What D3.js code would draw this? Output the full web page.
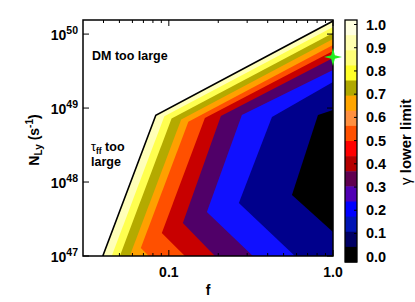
<!DOCTYPE html>
<html><head><meta charset="utf-8">
<script src="https://cdn.jsdelivr.net/npm/d3@7"></script>
<style>body{margin:0;background:#fff}svg{display:block}</style>
</head><body>
<svg id="chart" width="415" height="302"></svg>
<script>
// ---------- data ----------
const fTicks = [0.1, 1.0];
const fTickLabels = ["0.1", "1.0"];
const fMinorTicks = [0.04,0.05,0.06,0.07,0.08,0.09,0.2,0.3,0.4,0.5,0.6,0.7,0.8,0.9];
const nTicks = [1e47, 1e48, 1e49, 1e50];
const nTickExp = ["47", "48", "49", "50"];
const cbTicks = [0.0,0.1,0.2,0.3,0.4,0.5,0.6,0.7,0.8,0.9,1.0];
const cbTickLabels = ["0.0","0.1","0.2","0.3","0.4","0.5","0.6","0.7","0.8","0.9","1.0"];
// colour bar bands, top (high) to bottom (low)
const cbColors = ["#FFFFE0","#FFFFB0","#FFFF78","#FFFF28","#B0A800","#FFA500","#FF9040","#FF5000",
                  "#FF0000","#B40000","#600050","#5000B4","#0000FF","#0014B4","#000064","#000000"];
// allowed-region edge (black line): [f, N_Ly]
const validEdge = [[0.0396,1e47],[0.0833,8.0e48],[1.0,1.5e50]];
// contour lines of gamma lower limit, [f, N_Ly]
const gamma09 = [[0.0449,1e47],[0.0939,7.73e48],[1.0,1.244e50]];
const gamma08 = [[0.0503,1e47],[0.1039,7.21e48],[1.0,1.032e50]];
const gamma07 = [[0.0578,1e47],[0.1189,7.01e48],[1.0,8.56e49]];
const gamma06 = [[0.0755,1e47],[0.0675,1.28e47],[0.1315,6.55e48],[1.0,7.10e49]];
const gamma05 = [[0.1252,1e47],[0.0906,2.05e47],[0.1658,7.33e48],[1.0,5.89e49]];
const gamma04 = [[0.1908,1e47],[0.1217,2.79e47],[0.2075,7.80e48],[1.0,4.74e49]];
const gamma03 = [[0.325,1e47],[0.1705,3.93e47],[0.2786,8.04e48],[1.0,3.26e49]];
const gamma02 = [[0.586,1e47],[0.267,5.20e47],[0.4246,7.56e48],[1.0,2.25e49]];
const gamma01 = [[1.0,2.11e47],[0.5623,6.67e47],[0.810,8.04e48],[1.0,9.4e48]];
const regionColors = ["#FFFFB8","#FFFF50","#B4AA00","#FFA000","#FF5000","#C80000","#500068","#1010FF","#00008C","#000000"];
const starPoint = [1.0, 4.9e49];

// ---------- layout ----------
const svg = d3.select("#chart");
const L = 83, R = 333, T = 20, B = 256;
const x = d3.scaleLog().domain([0.03, 1.0]).range([L, R]);
const y = d3.scaleLog().domain([1e47, 1.55e50]).range([B, T]);
const FONT = "'Liberation Sans', Arial, Helvetica, sans-serif";

svg.append("defs").append("clipPath").attr("id","clip")
  .append("rect").attr("x",L).attr("y",T).attr("width",R-L).attr("height",B-T);

const line = d3.line().x(d => x(d[0])).y(d => y(d[1]));
const fMax = x.domain()[1], nMin = y.domain()[0];
function region(pts){
  const out = pts.slice();
  if (pts[0][1] === nMin) out.push([fMax, nMin]);
  return line(out) + "Z";
}
const g = svg.append("g").attr("clip-path","url(#clip)");
const contours = [validEdge, gamma09, gamma08, gamma07, gamma06, gamma05, gamma04, gamma03, gamma02, gamma01];
contours.forEach((c, i) => {
  g.append("path").attr("d", region(c)).attr("fill", regionColors[i]).attr("stroke","none");
});
g.append("path").attr("d", line(validEdge)).attr("fill","none").attr("stroke","#000").attr("stroke-width",1.6);

// frame
svg.append("rect").attr("x",L).attr("y",T).attr("width",R-L).attr("height",B-T)
  .attr("fill","none").attr("stroke","#000").attr("stroke-width",1.5);

// x ticks
const tk = svg.append("g").attr("stroke","#000").attr("stroke-width",1);
fTicks.forEach(v => {
  tk.append("line").attr("x1",x(v)).attr("x2",x(v)).attr("y1",B).attr("y2",B-6);
  tk.append("line").attr("x1",x(v)).attr("x2",x(v)).attr("y1",T).attr("y2",T+6);
});
fMinorTicks.forEach(v => {
  tk.append("line").attr("x1",x(v)).attr("x2",x(v)).attr("y1",B).attr("y2",B-3);
  tk.append("line").attr("x1",x(v)).attr("x2",x(v)).attr("y1",T).attr("y2",T+3);
});
nTicks.forEach(v => {
  tk.append("line").attr("x1",L).attr("x2",L+6).attr("y1",y(v)).attr("y2",y(v));
  tk.append("line").attr("x1",R).attr("x2",R-6).attr("y1",y(v)).attr("y2",y(v));
});

// x tick labels
fTicks.forEach((v,i) => {
  svg.append("text").attr("x",x(v)).attr("y",277).attr("text-anchor","middle")
    .attr("font-family",FONT).attr("font-weight","bold").attr("font-size",14).text(fTickLabels[i]);
});
// y tick labels
nTicks.forEach((v,i) => {
  const t = svg.append("text").attr("x",78).attr("y",y(v)+6).attr("text-anchor","end")
    .attr("font-family",FONT).attr("font-weight","bold").attr("font-size",14);
  t.append("tspan").text("10");
  t.append("tspan").attr("font-size",10.5).attr("dy",-6).text(nTickExp[i]);
});
// axis titles
svg.append("text").attr("x",(L+R)/2).attr("y",295).attr("text-anchor","middle")
  .attr("font-family",FONT).attr("font-weight","bold").attr("font-size",14).text("f");
const yt = svg.append("text").attr("transform","translate(39,140) rotate(-90)").attr("text-anchor","middle")
  .attr("font-family",FONT).attr("font-weight","bold").attr("font-size",14);
yt.append("tspan").text("N");
yt.append("tspan").attr("font-size",10).attr("dy",3).text("Ly");
yt.append("tspan").attr("dy",-3).text(" (s");
yt.append("tspan").attr("font-size",10).attr("dy",-6).text("-1");
yt.append("tspan").attr("dy",6).text(")");

// annotations
svg.append("text").attr("x",92).attr("y",60).attr("font-family",FONT).attr("font-weight","bold")
  .attr("font-size",12.5).text("DM too large");
const tau = svg.append("text").attr("x",91).attr("y",151).attr("font-family",FONT).attr("font-weight","bold").attr("font-size",12.5);
tau.append("tspan").attr("font-weight","normal").text("τ");
tau.append("tspan").attr("font-size",8.5).attr("dy",2.5).text("ff");
tau.append("tspan").attr("dy",-2.5).text(" too");
svg.append("text").attr("x",91).attr("y",166).attr("font-family",FONT).attr("font-weight","bold")
  .attr("font-size",12.5).text("large");

// star
const starPts = d3.range(8).map(i => [i*Math.PI/4, i%2===0 ? 9 : 2.6]);
svg.append("path")
  .attr("d", d3.lineRadial().angle(d=>d[0]).radius(d=>d[1]).curve(d3.curveLinearClosed)(starPts))
  .attr("transform",`translate(${x(starPoint[0])},${y(starPoint[1])})`)
  .attr("fill","#22EE22");

// colour bar
const cbL = 345, cbW = 12, cbT = 20, cbB = 262;
const band = d3.scaleBand().domain(d3.range(cbColors.length)).range([cbT, cbB]);
svg.append("g").selectAll("rect").data(cbColors).join("rect")
  .attr("x",cbL).attr("y",(d,i)=>band(i)).attr("width",cbW).attr("height",band.bandwidth()+0.5)
  .attr("fill",d=>d);
svg.append("rect").attr("x",cbL).attr("y",cbT).attr("width",cbW).attr("height",cbB-cbT)
  .attr("fill","none").attr("stroke","#000").attr("stroke-width",1.3);
const cbScale = d3.scaleLinear().domain([0,1]).range([256.7, 24.5]);
cbTicks.forEach((v,i) => {
  svg.append("line").attr("x1",cbL+cbW).attr("x2",cbL+cbW-3).attr("y1",cbScale(v)).attr("y2",cbScale(v))
    .attr("stroke","#000").attr("stroke-width",1);
  svg.append("text").attr("x",366).attr("y",cbScale(v)+5).attr("font-family",FONT)
    .attr("font-weight","bold").attr("font-size",14.5).text(cbTickLabels[i]);
});
const ct = svg.append("text").attr("transform","translate(411,142) rotate(-90)").attr("text-anchor","middle")
  .attr("font-family",FONT).attr("font-weight","bold").attr("font-size",15);
ct.append("tspan").attr("font-weight","normal").text("γ");
ct.append("tspan").text(" lower limit");
</script>
</body></html>
